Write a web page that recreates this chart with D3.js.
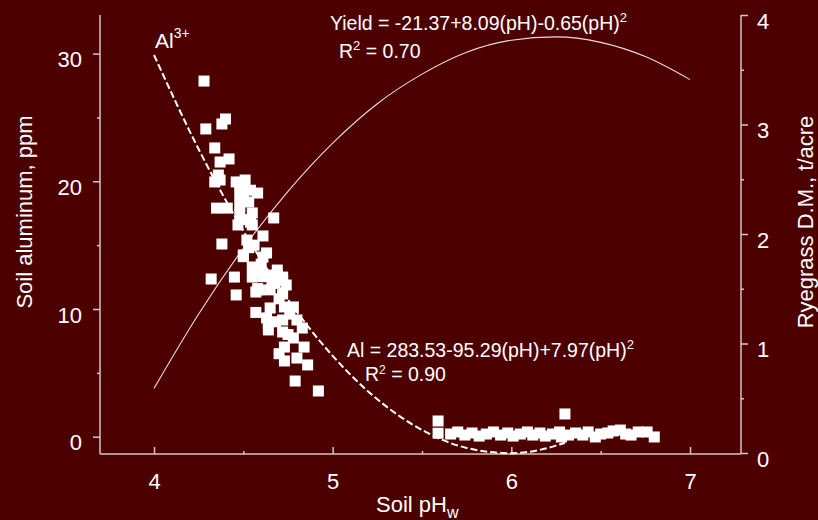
<!DOCTYPE html>
<html>
<head>
<meta charset="utf-8">
<script src="https://cdn.jsdelivr.net/npm/d3@7"></script>
<style>
    body { margin: 0; background: #4d0000; }
    text { font-family: "Liberation Sans", Arial, sans-serif; fill: #ffffff; }
</style>
</head>
<body>
<div id="chart"></div>
<script>
// scatter: soil pH vs soil aluminum (ppm)
const scatterPH = [
    4.28, 4.40, 4.38, 4.29, 4.34, 4.42, 4.37, 4.36, 4.34, 4.37, 4.46, 4.51, 4.48, 4.54, 4.58,
    4.35, 4.41, 4.48, 4.53, 4.48, 4.48, 4.55, 4.47, 4.55, 4.54, 4.67, 4.61, 4.38, 4.52, 4.50,
    4.50, 4.61, 4.63, 4.55, 4.69, 4.61, 4.72, 4.58, 4.65, 4.32, 4.45, 4.55, 4.63, 4.69, 4.72,
    4.74, 4.59, 4.67, 4.46, 4.57, 4.72, 4.57, 4.65, 4.73, 4.78, 4.63, 4.64, 4.64, 4.72, 4.72,
    4.80, 4.83, 4.78, 4.73, 4.84, 4.73, 4.80, 4.86, 4.79, 4.92,
    4.50, 4.52, 4.56, 4.60, 4.66, 4.70, 4.76, 4.68, 4.75, 4.70, 4.53, 4.58,
    5.59, 5.59, 5.66, 5.70, 5.74, 5.78, 5.82, 5.86, 5.90, 5.94, 5.98, 6.01, 6.05, 6.09, 6.12,
    6.16, 6.19, 6.23, 6.27, 6.28, 6.30, 6.32, 6.36, 6.40, 6.43, 6.47, 6.50, 6.54, 6.57, 6.61,
    6.64, 6.67, 6.71, 6.76, 6.80
];
const scatterAl = [
    27.85, 24.88, 24.49, 24.10, 22.61, 21.75, 21.51, 20.49, 19.95, 20.10, 19.95, 20.10, 19.70, 19.30, 19.08,
    17.90, 17.90, 18.93, 18.38, 18.10, 17.36, 17.52, 16.58, 16.58, 16.80, 17.13, 15.72, 15.09, 15.40, 14.23,
    14.10, 14.07, 14.39, 13.29, 13.05, 12.53, 12.22, 11.60, 11.50, 12.35, 12.50, 12.50, 12.66, 12.66, 12.50,
    11.88, 11.49, 12.03, 11.10, 11.33, 11.18, 9.73, 10.08, 10.16, 10.16, 9.30, 8.36, 8.90, 9.14, 8.20,
    9.14, 8.51, 7.73, 7.02, 7.02, 5.93, 6.16, 5.62, 4.36, 3.58,
    19.0, 17.0, 15.0, 13.5, 12.0, 10.8, 9.6, 9.0, 8.0, 6.5, 14.8, 12.9,
    1.23, 0.27, 0.21, 0.37, 0.13, 0.29, 0.05, 0.21, 0.37, 0.13, 0.29, 0.05, 0.21, 0.37, 0.13,
    0.29, 0.05, 0.21, 0.37, -0.02, 1.78, 0.13, 0.29, 0.13, 0.37, -0.02, 0.21, 0.29, 0.45, 0.52,
    0.21, 0.13, 0.37, 0.37, -0.02
];

// fitted yield curve (right axis, t/acre)
const yieldPH = [4.0, 4.25, 4.5, 4.75, 5.0, 5.25, 5.5, 5.75, 6.0, 6.25, 6.5, 6.75, 7.0];
const yieldFit = [0.59, 1.27, 1.87, 2.39, 2.83, 3.19, 3.46, 3.66, 3.77, 3.80, 3.75, 3.62, 3.41];

// fitted aluminum curve (left axis, ppm)
const alPH = [4.0, 4.25, 4.5, 4.75, 5.0, 5.25, 5.5, 5.75, 6.0, 6.25, 6.3];
const alFit = [29.89, 22.51, 16.12, 10.73, 6.33, 2.93, 0.53, -0.88, -1.29, -0.70, -0.47];

const xTicks = [4, 5, 6, 7];
const xMinor = [4.5, 5.5, 6.5];
const alTicks = [0, 10, 20, 30];
const alMinor = [5, 15, 25];
const yieldTicks = [0, 1, 2, 3, 4];
const yieldMinor = [0.5, 1.5, 2.5, 3.5];

const width = 818, height = 520;
const frame = { left: 100, right: 741, top: 15, bottom: 454 };
const axisColor = "#d8c4c4";

const svg = d3.select("#chart").append("svg")
    .attr("width", width)
    .attr("height", height);

svg.append("rect")
    .attr("width", width)
    .attr("height", height)
    .attr("fill", "#4d0000");

const x = d3.scaleLinear().domain([4, 7]).range([154, 690]);
const yAl = d3.scaleLinear().domain([0, 30]).range([436.7, 53.6]);
const yYield = d3.scaleLinear().domain([0, 4]).range([453, 15]);

// frame lines
svg.append("line")
    .attr("x1", frame.left).attr("x2", frame.left)
    .attr("y1", frame.top).attr("y2", frame.bottom)
    .attr("stroke", axisColor).attr("stroke-width", 1.5);
svg.append("line")
    .attr("x1", frame.right).attr("x2", frame.right)
    .attr("y1", frame.top).attr("y2", frame.bottom)
    .attr("stroke", axisColor).attr("stroke-width", 1.5);
svg.append("line")
    .attr("x1", frame.left).attr("x2", frame.right)
    .attr("y1", frame.bottom).attr("y2", frame.bottom)
    .attr("stroke", axisColor).attr("stroke-width", 1.5);

function styleAxis(g) {
    g.select(".domain").remove();
    g.selectAll("line").attr("stroke", axisColor).attr("stroke-width", 1.5);
    g.selectAll("text").attr("font-size", 22).attr("fill", "#ffffff");
}

const plain = d => d;

// left axis
svg.append("g")
    .attr("transform", `translate(${frame.left},0)`)
    .call(d3.axisLeft(yAl).tickValues(alTicks).tickFormat(plain).tickSize(7).tickPadding(11))
    .call(styleAxis)
    .selectAll("text").attr("dy", "0.6em");
svg.append("g")
    .attr("transform", `translate(${frame.left},0)`)
    .call(d3.axisLeft(yAl).tickValues(alMinor).tickSize(3).tickFormat(""))
    .call(styleAxis);

// right axis
svg.append("g")
    .attr("transform", `translate(${frame.right},0)`)
    .call(d3.axisRight(yYield).tickValues(yieldTicks).tickFormat(plain).tickSize(7).tickPadding(9))
    .call(styleAxis)
    .selectAll("text").attr("dy", "0.6em");
svg.append("g")
    .attr("transform", `translate(${frame.right},0)`)
    .call(d3.axisRight(yYield).tickValues(yieldMinor).tickSize(3).tickFormat(""))
    .call(styleAxis);

// bottom axis, ticks pointing inward
svg.append("g")
    .attr("transform", `translate(0,${frame.bottom})`)
    .call(d3.axisBottom(x).tickValues(xTicks).tickFormat(plain).tickSize(-7).tickPadding(19))
    .call(styleAxis);
svg.append("g")
    .attr("transform", `translate(0,${frame.bottom})`)
    .call(d3.axisBottom(x).tickValues(xMinor).tickSize(-3).tickFormat(""))
    .call(styleAxis);

// yield curve
svg.append("path")
    .datum(yieldPH.map((d, i) => [d, yieldFit[i]]))
    .attr("fill", "none")
    .attr("stroke", "#eedcdc")
    .attr("stroke-width", 1.1)
    .attr("d", d3.line().x(d => x(d[0])).y(d => yYield(d[1])).curve(d3.curveMonotoneX));

// aluminum curve
svg.append("path")
    .datum(alPH.map((d, i) => [d, alFit[i]]))
    .attr("fill", "none")
    .attr("stroke", "#ffffff")
    .attr("stroke-width", 2)
    .attr("stroke-dasharray", "7,3")
    .attr("d", d3.line().x(d => x(d[0])).y(d => yAl(d[1])).curve(d3.curveMonotoneX));

// scatter squares
const sq = 11;
svg.append("g").selectAll("rect")
    .data(scatterPH.map((d, i) => [d, scatterAl[i]]))
    .enter()
    .append("rect")
    .attr("x", d => x(d[0]) - sq / 2)
    .attr("y", d => yAl(d[1]) - sq / 2)
    .attr("width", sq)
    .attr("height", sq)
    .attr("fill", "#ffffff");

// annotations
const al3 = svg.append("text").attr("x", 155).attr("y", 48).attr("font-size", 21);
al3.append("tspan").text("Al");
al3.append("tspan").attr("dy", -10).attr("font-size", 14).text("3+");

const yEq = svg.append("text").attr("x", 330).attr("y", 30).attr("font-size", 19.5);
yEq.append("tspan").text("Yield = -21.37+8.09(pH)-0.65(pH)");
yEq.append("tspan").attr("dy", -8).attr("font-size", 13).text("2");

const r1 = svg.append("text").attr("x", 339).attr("y", 58).attr("font-size", 19.5);
r1.append("tspan").text("R");
r1.append("tspan").attr("dy", -8).attr("font-size", 13).text("2");
r1.append("tspan").attr("dy", 8).text(" = 0.70");

const aEq = svg.append("text").attr("x", 347).attr("y", 357).attr("font-size", 19.5);
aEq.append("tspan").text("Al = 283.53-95.29(pH)+7.97(pH)");
aEq.append("tspan").attr("dy", -8).attr("font-size", 13).text("2");

const r2 = svg.append("text").attr("x", 365).attr("y", 381).attr("font-size", 19.5);
r2.append("tspan").text("R");
r2.append("tspan").attr("dy", -7).attr("font-size", 12).text("2");
r2.append("tspan").attr("dy", 7).text(" = 0.90");

// axis titles
svg.append("text")
    .attr("transform", "translate(32,212) rotate(-90)")
    .attr("text-anchor", "middle")
    .attr("font-size", 22)
    .text("Soil aluminum, ppm");

svg.append("text")
    .attr("transform", "translate(813,222) rotate(-90)")
    .attr("text-anchor", "middle")
    .attr("font-size", 22)
    .text("Ryegrass D.M., t/acre");

const xt = svg.append("text")
    .attr("x", 376).attr("y", 512)
    .attr("font-size", 22);
xt.append("tspan").text("Soil pH");
xt.append("tspan").attr("dy", 6).attr("font-size", 16).text("w");
</script>
</body>
</html>
